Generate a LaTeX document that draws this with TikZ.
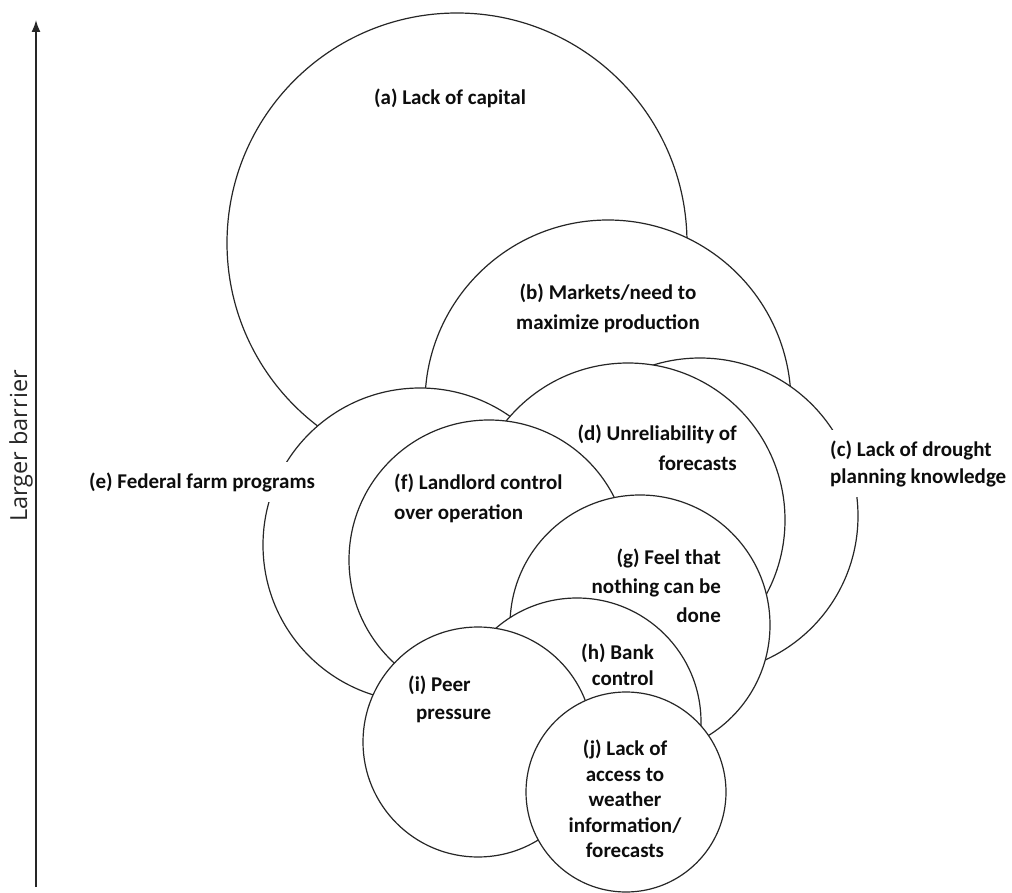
\documentclass[tikz,border=0pt]{standalone}
\usepackage{fontspec}
\setmainfont{Carlito}
\newfontfamily\axisfont{Open Sans}
\usetikzlibrary{arrows.meta}
\begin{document}
\begin{tikzpicture}[x=1pt,y=-1pt,
  circ/.style={circle, draw=black!85, line width=1.2pt, fill=white, inner sep=0pt, minimum size=#1},
  lbl/.style={font=\bfseries\fontsize{21}{30}\selectfont, text=black!95, inner sep=0pt},
  ls/.style={font=\bfseries\fontsize{21}{#1}\selectfont},
  axislbl/.style={font=\axisfont\fontsize{23.5}{28}\selectfont, text=black!85, rotate=90, inner sep=0pt}
]
\useasboundingbox (0,0) rectangle (1012,893);
% circles, back to front
\node[circ=460pt] (a) at (457,243) {};
\node[circ=366pt] (b) at (608,403) {};
\node[circ=316pt] (c) at (700,516) {};
\node[circ=314pt] (e) at (420,545) {};
\node[circ=314pt] (d) at (628,520) {};
\node[circ=280pt] (f) at (489,560) {};
\node[circ=260pt] (g) at (640,625) {};
\node[circ=248pt] (h) at (577,722) {};
\node[circ=230pt] (i) at (478,742) {};
\node[circ=200pt] (j) at (626,792) {};
% labels
\node[lbl] (ta) at (450,98) {(a) Lack of capital};
\node[lbl, align=center] (tb) at (608,308) {(b) Markets/need to\\maximize production};
\node[lbl, ls=27, align=left, anchor=west, fill=white, inner sep=10pt] (tc) at (820,463.5) {(c) Lack of drought\\planning knowledge};
\node[lbl, align=right, anchor=east] (td) at (737,448) {(d) Unreliability of\\forecasts};
\node[lbl, fill=white, inner sep=10pt] (te) at (202,482) {(e) Federal farm programs};
\node[lbl, align=left, anchor=west] (tf) at (394,498) {(f) Landlord control\\over operation};
\node[lbl, ls=29, align=right, anchor=east] (tg) at (721,586) {(g) Feel that\\nothing can be\\done};
\node[lbl, ls=26, align=right, anchor=east] (th) at (654,665) {(h) Bank\\control};
\node[lbl, ls=28, align=left, anchor=west] (ti) at (408,699) {(i) Peer\\\hspace*{8pt}pressure};
\node[lbl, ls=25.5, align=center] (tj) at (625,799) {(j) Lack of\\access to\\weather\\information/\\forecasts};
% axis
\coordinate (ax0) at (36,887);
\coordinate (ax1) at (36,20);
\draw[line width=1.6pt, black!85, -{Latex[length=12pt,width=9pt]}] (ax0) -- (ax1);
\node[axislbl] (tl) at (21,446) {Larger barrier};
\end{tikzpicture}
\end{document}
